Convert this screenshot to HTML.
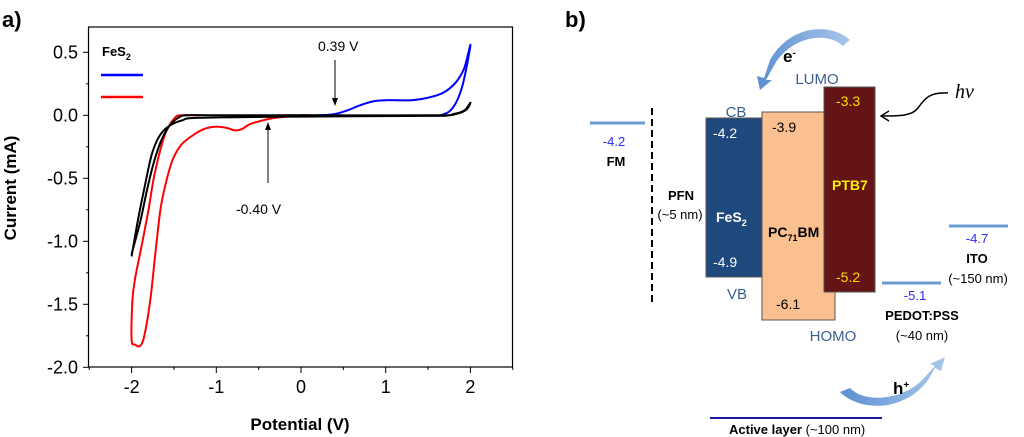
<!DOCTYPE html>
<html><head><meta charset="utf-8"><style>
html,body{margin:0;padding:0;background:#fff;}
svg{display:block;font-family:"Liberation Sans",sans-serif;}
</style></head><body>
<svg id="fig" width="1024" height="437" viewBox="0 0 1024 437" xmlns="http://www.w3.org/2000/svg">
<defs>
<linearGradient id="ag" x1="0" y1="0" x2="1" y2="0"><stop offset="0" stop-color="#5b8fd0"/><stop offset="1" stop-color="#a9c7ea"/></linearGradient>
</defs>
<g id="panelA">
<text x="2" y="27" font-size="22" font-weight="bold">a)</text>
<rect x="88.5" y="27" width="424" height="340" fill="none" stroke="#000" stroke-width="1.2"/>
<g id="axes"></g>
<g id="series"></g>
<text x="28" y="200" font-size="17" font-weight="bold" text-anchor="middle" transform="rotate(-90 16 200)">Current (mA)</text>
<text x="300" y="430" font-size="17" font-weight="bold" text-anchor="middle">Potential (V)</text>
<text x="102" y="56" font-size="13" font-weight="bold">FeS<tspan font-size="9" dy="4">2</tspan></text>
<line x1="101" y1="75" x2="143" y2="75" stroke="#0000ff" stroke-width="2.5"/>
<line x1="101" y1="97" x2="143" y2="97" stroke="#ff0000" stroke-width="2.5"/>
<text x="318" y="51" font-size="14">0.39 V</text>
<line x1="335" y1="60" x2="335" y2="100" stroke="#000" stroke-width="1"/>
<polygon points="332,98 338,98 335,106" fill="#000"/>
<text x="236" y="214" font-size="14">-0.40 V</text>
<line x1="268" y1="183" x2="268" y2="128" stroke="#000" stroke-width="1"/>
<polygon points="265,130 271,130 268,122" fill="#000"/>
</g>

<g id="panelB">
<text x="565" y="27" font-size="22" font-weight="bold">b)</text>
<line x1="590" y1="123" x2="645" y2="123" stroke="#6a9bd0" stroke-width="3"/>
<text x="614" y="146" font-size="13" fill="#2a2aff" text-anchor="middle">-4.2</text>
<text x="616" y="166" font-size="13" font-weight="bold" text-anchor="middle">FM</text>
<line x1="652" y1="108" x2="652" y2="303" stroke="#000" stroke-width="2" stroke-dasharray="7,4"/>
<text x="681" y="200" font-size="13" font-weight="bold" text-anchor="middle">PFN</text>
<text x="680" y="219" font-size="13" text-anchor="middle">(~5 nm)</text>
<rect x="706" y="118" width="56" height="159" fill="#1f497d" stroke="#555"/>
<rect x="762" y="112" width="73" height="208" fill="#fac090" stroke="#555"/>
<rect x="824" y="87" width="51" height="205" fill="#641414" stroke="#555"/>
<text x="713" y="138" font-size="14" fill="#fff">-4.2</text>
<text x="713" y="267" font-size="14" fill="#fff">-4.9</text>
<text x="716" y="222" font-size="14" font-weight="bold" fill="#fff">FeS<tspan font-size="9" dy="4">2</tspan></text>
<text x="772" y="132" font-size="14">-3.9</text>
<text x="776" y="309" font-size="14">-6.1</text>
<text x="768" y="237" font-size="14" font-weight="bold">PC<tspan font-size="9" dy="4">71</tspan><tspan dy="-4">BM</tspan></text>
<text x="836" y="106" font-size="14" fill="#ffdd00">-3.3</text>
<text x="836" y="282" font-size="14" fill="#ffdd00">-5.2</text>
<text x="832" y="190" font-size="14" font-weight="bold" fill="#ffee00">PTB7</text>
<text x="736" y="117" font-size="15" fill="#3a5f8f" text-anchor="middle">CB</text>
<text x="737" y="299" font-size="15" fill="#3a5f8f" text-anchor="middle">VB</text>
<text x="817" y="84" font-size="15" fill="#3a5f8f" text-anchor="middle">LUMO</text>
<text x="833" y="341" font-size="15" fill="#3a5f8f" text-anchor="middle">HOMO</text>
<line x1="949" y1="226" x2="1008" y2="226" stroke="#6a9bd0" stroke-width="3"/>
<text x="977" y="243" font-size="13" fill="#2a2aff" text-anchor="middle">-4.7</text>
<text x="977" y="263" font-size="13" font-weight="bold" text-anchor="middle">ITO</text>
<text x="978" y="283" font-size="13" text-anchor="middle">(~150 nm)</text>
<line x1="882" y1="283" x2="941" y2="283" stroke="#6a9bd0" stroke-width="3"/>
<text x="915" y="300" font-size="13" fill="#2a2aff" text-anchor="middle">-5.1</text>
<text x="922" y="320" font-size="13" font-weight="bold" text-anchor="middle">PEDOT:PSS</text>
<text x="922" y="340" font-size="13" text-anchor="middle">(~40 nm)</text>
<line x1="710" y1="418" x2="882" y2="418" stroke="#1a1aa0" stroke-width="2"/>
<text x="729" y="434" font-size="13"><tspan font-weight="bold">Active layer</tspan> (~100 nm)</text>
<text x="955" y="98" font-size="20" font-style="italic" font-family="Liberation Serif,serif">hν</text>
<path d="M948,93 C930,92 925,98 918,108 C912,116 900,116 882,116" fill="none" stroke="#000" stroke-width="1.5"/>
<polyline points="889,111 881,116 889,121" fill="none" stroke="#000" stroke-width="1.5"/>
<path d="M850,40 C830,22 790,25 770,60 L764,78 L757,76 L760,90 L772,80 L766,80 L776,62 C795,35 828,32 843,46 Z" fill="url(#ag)"/>
<text x="783" y="62" font-size="17" font-weight="bold">e<tspan font-size="10" dy="-6">-</tspan></text>
<path d="M840,392 C860,412 905,412 928,380 L935,368 L941,371 L945,357 L930,364 L935,366 L924,378 C905,400 865,404 850,388 Z" fill="url(#ag)"/>
<text x="893" y="394" font-size="17" font-weight="bold">h<tspan font-size="10" dy="-6">+</tspan></text>
</g>
</svg>
<script>
const xTicks=[-2,-1,0,1,2];
const yTicks=[0.5,0.0,-0.5,-1.0,-1.5,-2.0];
const yTickLabels=["0.5","0.0","-0.5","-1.0","-1.5","-2.0"];
const blueV=[-0.2,0.2,0.4,0.55,0.7,0.85,1.0,1.3,1.5,1.65,1.75,1.85,1.93,2.0,1.96,1.9,1.83,1.75,1.65];
const blueI=[0,0,0.01,0.04,0.08,0.11,0.12,0.12,0.14,0.17,0.21,0.28,0.38,0.56,0.4,0.22,0.1,0.03,0.0];
const redV=[0.1,0,-0.3,-0.45,-0.6,-0.7,-0.78,-0.88,-1.0,-1.15,-1.3,-1.42,-1.52,-1.6,-1.66,-1.72,-1.78,-1.85,-1.9,-1.96,-2.0,-1.99,-1.96,-1.88,-1.8,-1.73,-1.61,-1.49,-1.4,-1.2];
const redI=[0,0,-0.02,-0.04,-0.07,-0.11,-0.12,-0.1,-0.09,-0.11,-0.17,-0.24,-0.36,-0.55,-0.75,-1.1,-1.47,-1.75,-1.83,-1.82,-1.78,-1.47,-1.3,-1.03,-0.75,-0.47,-0.16,-0.02,0,0];
const blackV=[-2,-1.93,-1.85,-1.77,-1.7,-1.62,-1.52,-1.4,-1.2,0,1.5,1.75,1.88,1.96,2.0,1.93,1.8,1.6,0,-1,-1.35,-1.45,-1.55,-1.65,-1.74,-1.82,-1.9,-2];
const blackI=[-1.12,-0.85,-0.58,-0.33,-0.2,-0.12,-0.07,-0.04,-0.02,-0.01,-0.005,0,0.02,0.05,0.1,0.04,0.01,0,0,0,0,-0.02,-0.08,-0.2,-0.38,-0.6,-0.85,-1.1];
const sx=v=>301+v*84.7;
const sy=i=>115.3-i*126;
const NS="http://www.w3.org/2000/svg";
const axes=document.getElementById('axes');
function mk(t,a,p){const e=document.createElementNS(NS,t);for(const k in a)e.setAttribute(k,a[k]);p.appendChild(e);return e;}
xTicks.forEach((v,k)=>{
 mk('line',{x1:sx(v),y1:367,x2:sx(v),y2:373,stroke:'#000'},axes);
 mk('line',{x1:sx(v+0.5),y1:367,x2:sx(v+0.5),y2:370,stroke:'#000'},axes);
 const t=mk('text',{x:sx(v),y:393,'font-size':18,'text-anchor':'middle'},axes);
 t.textContent=String(v);
 
 
});
mk('line',{x1:sx(-2.5),y1:367,x2:sx(-2.5),y2:370,stroke:'#000'},axes);
yTicks.forEach((v,k)=>{
 mk('line',{x1:83,y1:sy(v),x2:88.5,y2:sy(v),stroke:'#000'},axes);
 if(v>-2) mk('line',{x1:86,y1:sy(v-0.25),x2:88.5,y2:sy(v-0.25),stroke:'#000'},axes);
 const t=mk('text',{x:78,y:sy(v)+6,'font-size':18,'text-anchor':'end'},axes);
 t.textContent=yTickLabels[k];
 
 
});
const ser=document.getElementById('series');
function smooth(P){
 let d='M'+P[0][0].toFixed(1)+','+P[0][1].toFixed(1);
 for(let k=0;k<P.length-1;k++){
  const p0=P[k-1]||P[k],p1=P[k],p2=P[k+1],p3=P[k+2]||p2;
  const c1=[p1[0]+(p2[0]-p0[0])/6,p1[1]+(p2[1]-p0[1])/6];
  const c2=[p2[0]-(p3[0]-p1[0])/6,p2[1]-(p3[1]-p1[1])/6];
  d+='C'+c1[0].toFixed(1)+','+c1[1].toFixed(1)+' '+c2[0].toFixed(1)+','+c2[1].toFixed(1)+' '+p2[0].toFixed(1)+','+p2[1].toFixed(1);
 }
 return d;
}
function line(V,I,c,n){
 const P=V.map((v,k)=>[sx(v),sy(I[k])]);
 const p=mk('path',{d:smooth(P),fill:'none',stroke:c,'stroke-width':2,'stroke-linejoin':'round'},ser);
 
 
}
line(blueV,blueI,'#0000ff','blue-cv-curve');
line(redV,redI,'#ff0000','red-cv-curve');
line(blackV,blackI,'#000000','black-cv-curve');
</script>
</body></html>
